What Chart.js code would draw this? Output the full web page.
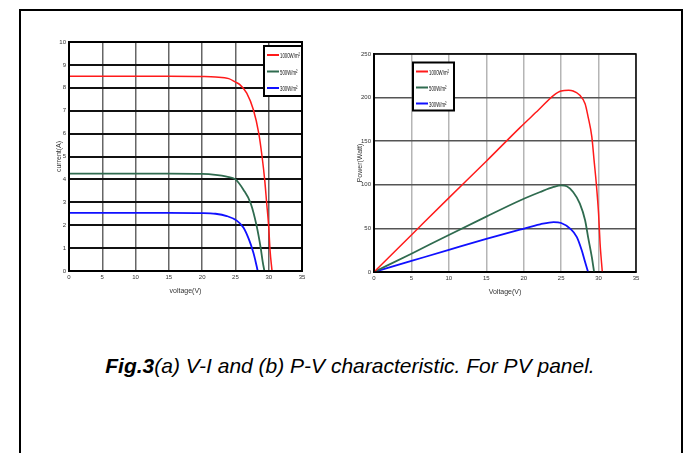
<!DOCTYPE html>
<html>
<head>
<meta charset="utf-8">
<script src="https://cdn.jsdelivr.net/npm/chart.js@4.4.1/dist/chart.umd.min.js"></script>
<style>
  body { margin: 0; background: #fff; width: 694px; height: 453px; overflow: hidden; position: relative; }
  #frame { position: absolute; left: 19px; top: 9px; width: 660px; height: 470px; border: 2px solid #000; }
  .box { position: absolute; }
  #viBox { left: 24px; top: 30px; width: 290px; height: 275px; }
  #pvBox { left: 340px; top: 30px; width: 320px; height: 275px; }
  #caption {
    position: absolute; left: 0; top: 355px; width: 700px; text-align: center;
    font: italic 21px "Liberation Sans", Arial, sans-serif; line-height: 21px; color: #000;
  }
</style>
</head>
<body>
<div id="frame"></div>
<div class="box" id="viBox"><canvas id="viChart" width="290" height="275"></canvas></div>
<div class="box" id="pvBox"><canvas id="pvChart" width="320" height="275"></canvas></div>
<div id="caption"><b>Fig.3</b>(a) V-I and (b) P-V characteristic. For PV panel.</div>

<script>
// irradiance levels
const labels = ['1000W/m\u00B2', '500W/m\u00B2', '300W/m\u00B2'];
const colors = ['#ff1a1a', '#2f6b4f', '#1010ff'];

// V-I curves (voltage V, current A)
const viVolt1000 = [0, 5, 10, 15, 20, 22, 24, 25, 25.7, 26.7, 27.7, 28.5, 29.0, 29.4, 29.7, 30.0, 30.2, 30.5];
const viCurr1000 = [8.5, 8.5, 8.5, 8.5, 8.49, 8.47, 8.4, 8.25, 8.13, 7.77, 7.04, 6.02, 5.0, 3.97, 2.95, 1.93, 0.9, 0];
const viVolt500 = [0, 5, 10, 15, 20, 22, 23.7, 25, 26.2, 27.3, 28.2, 28.8, 29.1, 29.35];
const viCurr500 = [4.25, 4.25, 4.25, 4.25, 4.24, 4.2, 4.12, 4.0, 3.55, 2.95, 1.95, 1.0, 0.4, 0];
const viVolt300 = [0, 5, 10, 15, 20, 22, 23.7, 25.2, 26.2, 27.0, 27.7, 28.0, 28.35];
const viCurr300 = [2.54, 2.54, 2.54, 2.54, 2.53, 2.5, 2.4, 2.2, 1.9, 1.4, 0.8, 0.45, 0];

// P-V curves (voltage V, power W)
const pvVolt1000 = [0, 5, 10, 15, 19.5, 22, 24, 25, 26, 26.6, 27.5, 28.2, 28.6, 29.1, 29.4, 29.7, 30.0, 30.2, 30.5];
const pvPow1000 = [0, 42.5, 85, 127, 165.6, 186, 202.6, 207.6, 208.3, 207.5, 202.6, 193, 178, 155, 128, 101, 67, 33, 0];
const pvVolt500 = [0, 5, 10, 15, 19.5, 22.2, 24, 25, 25.75, 26.6, 27.5, 28.2, 28.6, 29.1, 29.4];
const pvPow500 = [0, 21, 42.5, 63.5, 82, 91.7, 97.5, 99.4, 98.3, 91.7, 78.4, 59.3, 40, 17, 0];
const pvVolt300 = [0, 5, 10, 15, 19.5, 22.2, 24, 25, 26.2, 27.1, 27.75, 28.2, 28.6];
const pvPow300 = [0, 12.7, 25.4, 38, 48.6, 54.7, 57.3, 56.2, 49.8, 40, 24.9, 11.5, 0];

const toPoints = (xs, ys) => xs.map((x, i) => ({ x: x, y: ys[i] }));

const tickFont = { family: 'Liberation Sans', size: 6 };
const titleFont = { family: 'Liberation Sans', size: 7 };

// box around the plot area plus the MATLAB-like legend
const frameLegend = {
  id: 'frameLegend',
  afterDatasetsDraw(chart, args, opts) {
    const { ctx, chartArea: a } = chart;
    ctx.save();
    ctx.strokeStyle = '#000';
    ctx.lineWidth = opts.frameWidth;
    ctx.strokeRect(a.left, a.top, a.right - a.left, a.bottom - a.top);

    const bx = opts.fromRight ? a.right - opts.w : a.left + opts.dx;
    const by = a.top + opts.dy;
    ctx.fillStyle = '#fff';
    ctx.fillRect(bx, by, opts.w, opts.h);
    ctx.lineWidth = 2;
    ctx.strokeRect(bx, by, opts.w, opts.h);

    chart.data.datasets.forEach((ds, i) => {
      const y = by + opts.first + i * opts.gap;
      ctx.strokeStyle = ds.borderColor;
      ctx.lineWidth = 2;
      ctx.beginPath();
      ctx.moveTo(bx + 3, y);
      ctx.lineTo(bx + 15, y);
      ctx.stroke();
      ctx.save();
      ctx.translate(bx + 16, y + 3);
      ctx.scale(0.54, 1);
      ctx.fillStyle = '#111';
      ctx.font = '8px "Liberation Sans"';
      ctx.textBaseline = 'alphabetic';
      ctx.fillText(ds.label, 0, 0);
      ctx.restore();
    });
    ctx.restore();
  }
};

function makeDatasets(sets) {
  return sets.map((pts, i) => ({
    label: labels[i],
    data: pts,
    borderColor: colors[i],
    borderWidth: i === 0 ? 1.5 : 1.8,
    pointRadius: 0,
    fill: false,
    cubicInterpolationMode: 'monotone'
  }));
}

new Chart(document.getElementById('viChart'), {
  type: 'line',
  data: {
    datasets: makeDatasets([
      toPoints(viVolt1000, viCurr1000),
      toPoints(viVolt500, viCurr500),
      toPoints(viVolt300, viCurr300)
    ])
  },
  options: {
    responsive: false,
    animation: false,
    layout: { padding: { top: 12, right: 12, left: 0, bottom: 0 } },
    plugins: {
      legend: { display: false },
      tooltip: { enabled: false },
      frameLegend: { frameWidth: 2, fromRight: true, dy: 4, w: 38, h: 50, first: 9, gap: 16.5 }
    },
    scales: {
      x: {
        type: 'linear',
        min: 0,
        max: 35,
        ticks: { stepSize: 5, font: tickFont, color: '#333', padding: 3, maxRotation: 0 },
        grid: { color: '#666', lineWidth: 1.5, drawTicks: false },
        border: { color: '#000', width: 2 },
        title: { display: true, text: 'voltage(V)', font: titleFont, color: '#333', padding: { top: 0, bottom: 10 } },
        afterFit: (s) => { s.height = 34; }
      },
      y: {
        min: 0,
        max: 10,
        ticks: { stepSize: 1, font: tickFont, color: '#333', padding: 3 },
        grid: { color: '#111', lineWidth: 2, drawTicks: false },
        border: { color: '#000', width: 2 },
        title: { display: true, text: 'current(A)', font: titleFont, color: '#333', padding: { top: 31, bottom: 0 } },
        afterFit: (s) => { s.width = 45; }
      }
    }
  },
  plugins: [frameLegend]
});

new Chart(document.getElementById('pvChart'), {
  type: 'line',
  data: {
    datasets: makeDatasets([
      toPoints(pvVolt1000, pvPow1000),
      toPoints(pvVolt500, pvPow500),
      toPoints(pvVolt300, pvPow300)
    ])
  },
  options: {
    responsive: false,
    animation: false,
    layout: { padding: { top: 24, right: 24, left: 0, bottom: 0 } },
    plugins: {
      legend: { display: false },
      tooltip: { enabled: false },
      frameLegend: { frameWidth: 1.5, fromRight: false, dx: 39, dy: 8.5, w: 41, h: 48, first: 9, gap: 16 }
    },
    scales: {
      x: {
        type: 'linear',
        min: 0,
        max: 35,
        ticks: { stepSize: 5, font: tickFont, color: '#333', padding: 3, maxRotation: 0 },
        grid: { color: '#b5b5b5', lineWidth: 1.5, drawTicks: false },
        border: { color: '#000', width: 2 },
        title: { display: true, text: 'Voltage(V)', font: titleFont, color: '#333', padding: { top: 0, bottom: 9 } },
        afterFit: (s) => { s.height = 33; }
      },
      y: {
        min: 0,
        max: 250,
        ticks: { stepSize: 50, font: tickFont, color: '#333', padding: 3 },
        grid: { color: '#555', lineWidth: 1.5, drawTicks: false },
        border: { color: '#000', width: 2 },
        title: { display: true, text: 'Power(Watt)', font: titleFont, color: '#333', padding: { top: 16, bottom: 0 } },
        afterFit: (s) => { s.width = 34; }
      }
    }
  },
  plugins: [frameLegend]
});
</script>
</body>
</html>
